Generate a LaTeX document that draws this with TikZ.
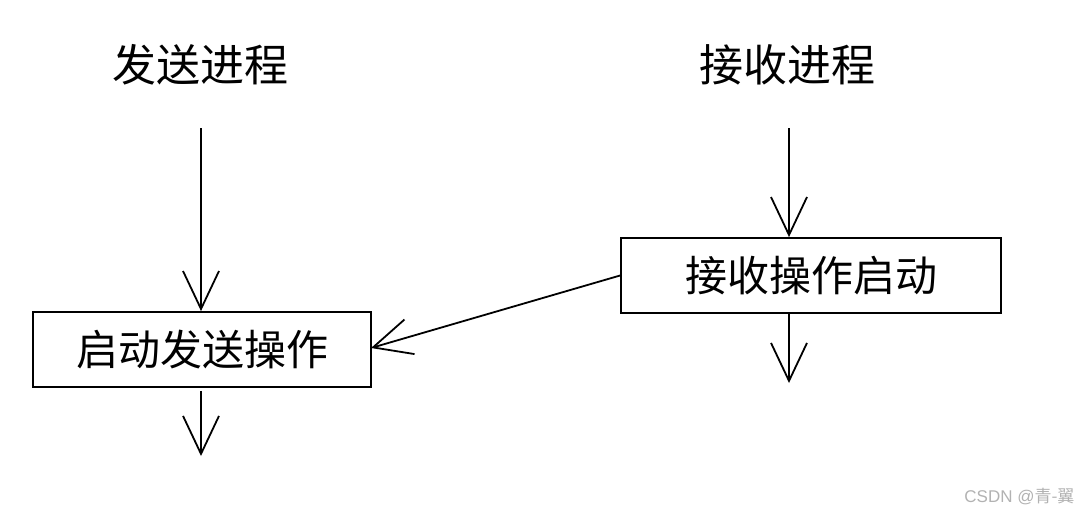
\documentclass[tikz,border=0pt]{standalone}
\usepackage{fontspec}
\newfontfamily\cjk{Noto Sans CJK SC}
\usetikzlibrary{arrows.meta}
\begin{document}
\begin{tikzpicture}[x=1pt,y=-1pt,
  ln/.style={line width=1.8pt,-{Straight Barb[length=38pt,width=36pt,line width=1.8pt]}},
  box/.style={draw,line width=1.8pt,minimum height=75pt,inner sep=0pt,font=\cjk\fontsize{42}{42}\selectfont},
  lbl/.style={font=\cjk\fontsize{44}{44}\selectfont}]
\useasboundingbox (0,0) rectangle (1081,514);
\node[lbl] (sp) at (200,65) {发送进程};
\node[lbl] (rp) at (787,65) {接收进程};
\coordinate (st) at (201,128);
\coordinate (rt) at (789,128);
\node[box,minimum width=338pt] (sb) at (202,349.5) {启动发送操作};
\node[box,minimum width=380pt] (rb) at (811,275.5) {接收操作启动};
\coordinate (se) at (201,456);
\coordinate (re) at (789,383);
\draw[ln] (st) -- (st|-sb.north);
\draw[ln] (rt) -- (rt|-rb.north);
\draw[ln] (st|-sb.south) ++(0,3) -- (se);
\draw[ln] (rt|-rb.south) -- (re);
\draw[ln] (rb.west) -- (371,348);
\node[anchor=south east,text=gray!60,font=\fontspec{Liberation Sans}\fontsize{17}{17}\selectfont] (wm) at (1078,508) {CSDN @{\cjk 青-翼}};
\end{tikzpicture}
\end{document}
